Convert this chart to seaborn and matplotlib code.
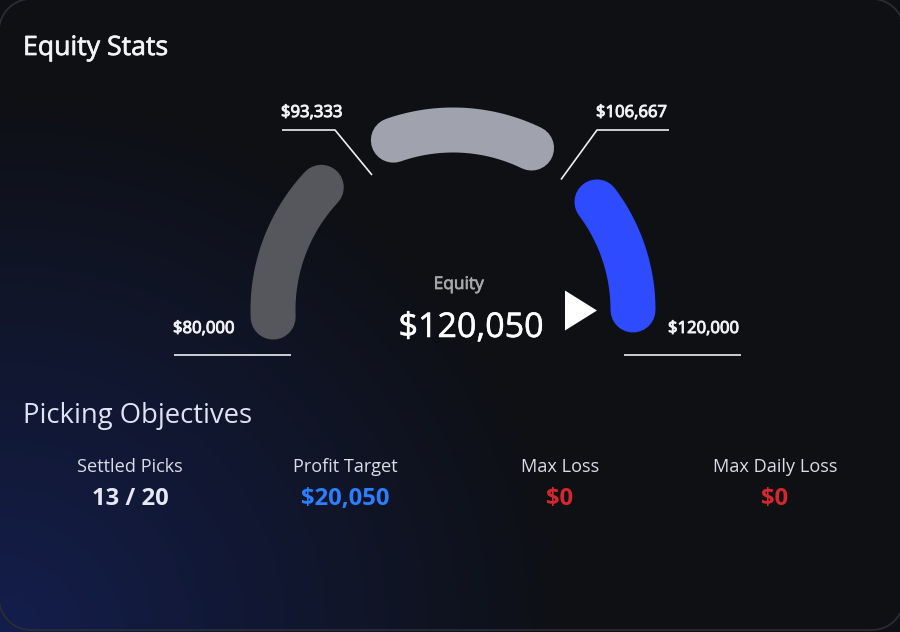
# %%
import matplotlib.patheffects as pe
import matplotlib.pyplot as plt
import numpy as np
import pandas as pd
import seaborn as sns
from matplotlib.markers import MarkerStyle

# gauge data
GAUGE_MIN = 80000
GAUGE_MAX = 120000
equity = 120050
seg_start = [79500, 95700, 111800]
seg_end = [89550, 105750, 120000]
seg_colors = ["#55575c", "#a0a3ad", "#2f4bff"]
threshold_labels = ["$80,000", "$93,333", "$106,667", "$120,000"]

# objectives
obj_names = ["Settled Picks", "Profit Target", "Max Loss", "Max Daily Loss"]
obj_values = ["13 / 20", "$20,050", "$0", "$0"]
obj_colors = ["#e6e8f5", "#2b7fff", "#d6262f", "#d6262f"]

W, H = 900, 632
FONT = "Open Sans"

sns.set_theme(style="dark")
plt.rcParams["font.family"] = [FONT, "DejaVu Sans"]

fig = plt.figure(figsize=(W / 100, H / 100), dpi=100)
fig.patch.set_facecolor("#0f1115")

# %%
# background, pixel coordinates
bg = fig.add_axes([0, 0, 1, 1], zorder=0)
yy, xx = np.mgrid[0:H, 0:W]
t = np.sqrt((xx / 570) ** 2 + ((H - yy) / 540) ** 2)
t = np.clip(1 - t, 0, 1)
base = np.array([14, 16, 20]) / 255
blue = np.array([20, 30, 76]) / 255
img = base + (blue - base)[None, None, :] * t[:, :, None]
bg.imshow(img, extent=[0, W, H, 0], aspect="auto", interpolation="bilinear")
bg.set_xlim(0, W)
bg.set_ylim(H, 0)
bg.axis("off")

# card outline, only the corners and the bottom edge fall inside the picture
# (a rounded patch running off canvas gets drawn skewed)
rad = 32
corners = [(31, 31, 180, 270), (872, 31, 270, 360), (872, 598, 0, 90), (31, 598, 90, 180)]
for ccx, ccy, a0, a1 in corners:
    a = np.radians(np.linspace(a0, a1, 30))
    bg.plot(ccx + rad * np.cos(a), ccy + rad * np.sin(a), color="#2b2e36", linewidth=1.2)
bg.plot([31, 872], [630, 630], color="#2b2e36", linewidth=1.2)

# leader lines
line_kw = dict(color="#eeeef0", linewidth=1.2, solid_capstyle="butt")
bg.plot([282, 335, 372], [130, 130, 175], **line_kw)
bg.plot([561, 597, 669], [179.5, 130, 130], **line_kw)
bg.plot([174, 291], [355, 355], **line_kw)
bg.plot([624, 741], [355, 355], **line_kw)


# %%
# gauge on a polar axes, value -> angle
def to_theta(v):
    return np.pi * (GAUGE_MAX - np.asarray(v, dtype=float)) / (GAUGE_MAX - GAUGE_MIN)


cx, cy, R = 453, 310, 180
ax = fig.add_axes(
    [(cx - R) / W, (H - cy - R) / H, 2 * R / W, 2 * R / H],
    projection="polar",
    zorder=1,
)
ax.patch.set_alpha(0)

for start, end, col in zip(seg_start, seg_end, seg_colors):
    arc = pd.DataFrame({"theta": to_theta(np.linspace(start, end, 80))})
    arc["r"] = 1.0
    sns.lineplot(
        data=arc,
        x="theta",
        y="r",
        ax=ax,
        sort=False,
        estimator=None,
        color=col,
        linewidth=32.4,
        solid_capstyle="round",
        clip_on=False,
    )

# pointer
sns.scatterplot(
    x=[to_theta(equity)],
    y=[0.711],
    ax=ax,
    marker=MarkerStyle([(-0.8, -1), (-0.8, 1), (0.8, 0)]),
    s=829,
    color="white",
    edgecolor="none",
    clip_on=False,
)
ax.set_ylim(0, 1)
ax.set_xlabel("")
ax.set_ylabel("")
ax.axis("off")


# %%
# text, positions in pixels
def put(x, y, s, size, color, ha="left", weight="normal", stroke=0):
    txt = fig.text(x / W, 1 - y / H, s, fontsize=size, color=color, ha=ha, va="baseline",
                   fontweight=weight, zorder=5)
    # Open Sans has no semibold here, thicken the regular cut a little
    if stroke:
        txt.set_path_effects([pe.withStroke(linewidth=stroke, foreground=color)])


put(23, 55, "Equity Stats", 19.2, "#f2f3f6", stroke=0.5)
put(23, 423, "Picking Objectives", 19.8, "#dfe3f5")

label_x = [173, 281, 596, 668]
label_y = [333, 117, 117, 333]
for x, y, s in zip(label_x, label_y, threshold_labels):
    put(x, y, s, 12, "#f2f2f5", stroke=0.7)

put(459, 289, "Equity", 12.5, "#a8a8ac", ha="center", stroke=0.5)
put(471, 337, "${:,}".format(equity), 24.5, "#ffffff", ha="center", stroke=0.4)

obj_x = [130, 345, 560, 775]
for x, name, val, col in zip(obj_x, obj_names, obj_values, obj_colors):
    put(x, 472, name, 13.1, "#dcdde6", ha="center")
    put(x, 505, val, 17.2, col, ha="center", weight="bold")

fig.savefig("out.png", dpi=100, facecolor=fig.get_facecolor())
